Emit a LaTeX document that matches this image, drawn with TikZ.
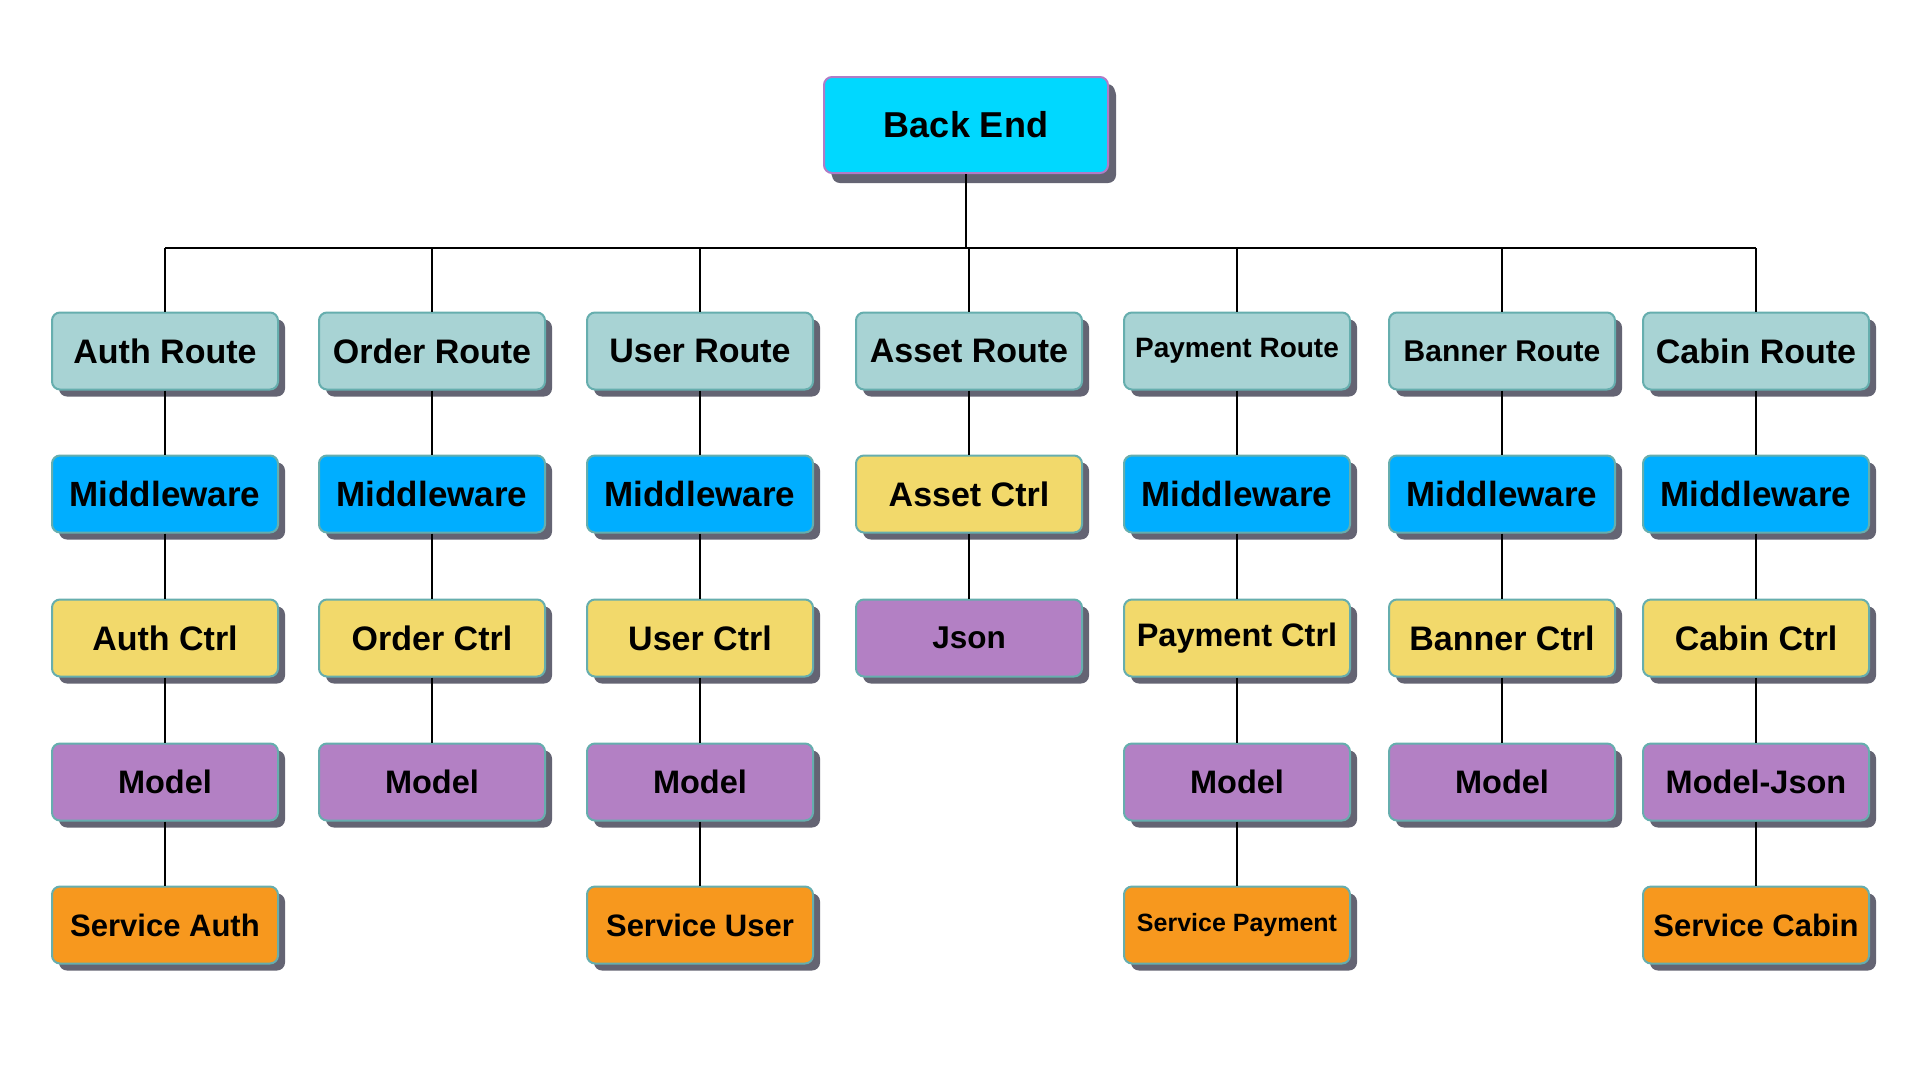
\documentclass[tikz,border=0pt]{standalone}
\usepackage{fontspec}
\setmainfont{Liberation Sans}
\usetikzlibrary{shadows}
\definecolor{becyan}{HTML}{00D8FF}
\definecolor{routecol}{HTML}{A8D3D4}
\definecolor{mwcol}{HTML}{00AEFF}
\definecolor{ctrlcol}{HTML}{F2D96B}
\definecolor{modelcol}{HTML}{B380C4}
\definecolor{servcol}{HTML}{F7981E}
\definecolor{edgecol}{HTML}{66AEAE}
\definecolor{beedge}{HTML}{B07CC6}
\definecolor{shadowcol}{HTML}{646473}
\newcommand{\fsz}[1]{\fontsize{#1}{#1}\selectfont\bfseries}
\begin{document}
\begin{tikzpicture}[x=1pt, y=-1pt, line width=2pt,
  box/.style={draw=edgecol, rounded corners=8pt, minimum width=226pt,
    minimum height=77pt, inner sep=0pt, font=\fsz{34},
    drop shadow={shadow xshift=7pt, shadow yshift=-7pt, fill=shadowcol, opacity=1}},
  route/.style={box, fill=routecol},
  mw/.style={box, fill=mwcol, font=\fsz{35}},
  ctrl/.style={box, fill=ctrlcol},
  model/.style={box, fill=modelcol, font=\fsz{32.5}},
  srv/.style={box, fill=servcol, font=\fsz{31}}]
  \useasboundingbox[fill=white] (0,0) rectangle (1920,1080);

  \node[box, fill=becyan, draw=beedge, minimum width=284pt, minimum height=96pt,
    font=\fsz{36}, drop shadow={shadow xshift=8pt, shadow yshift=-10pt,
    fill=shadowcol, opacity=1}] (be) at (966,125) {Back End};
  \coordinate (bus) at (0,248);

  % routes
  \node[route] (authroute) at (165,351) {Auth Route};
  \node[route] (orderroute) at (432,351) {Order Route};
  \node[route] (userroute) at (700,351) {User Route};
  \node[route] (assetroute) at (969,351) {Asset Route};
  \node[route, font=\fsz{28}] (payroute) at (1237,351) {Payment Route};
  \node[route, font=\fsz{30}] (bannerroute) at (1502,351) {Banner Route};
  \node[route] (cabinroute) at (1756,351) {Cabin Route};

  % middleware
  \node[mw] (authmw) at (165,494) {Middleware};
  \node[mw] (ordermw) at (432,494) {Middleware};
  \node[mw] (usermw) at (700,494) {Middleware};
  \node[mw] (paymw) at (1237,494) {Middleware};
  \node[mw] (bannermw) at (1502,494) {Middleware};
  \node[mw] (cabinmw) at (1756,494) {Middleware};

  % controllers
  \node[ctrl] (authctrl) at (165,638) {Auth Ctrl};
  \node[ctrl] (orderctrl) at (432,638) {Order Ctrl};
  \node[ctrl] (userctrl) at (700,638) {User Ctrl};
  \node[ctrl] (assetctrl) at (969,494) {Asset Ctrl};
  \node[ctrl, font=\fsz{32.5}] (payctrl) at (1237,638) {Payment Ctrl};
  \node[ctrl] (bannerctrl) at (1502,638) {Banner Ctrl};
  \node[ctrl] (cabinctrl) at (1756,638) {Cabin Ctrl};

  % models
  \node[model] (authmodel) at (165,782) {Model};
  \node[model] (ordermodel) at (432,782) {Model};
  \node[model] (usermodel) at (700,782) {Model};
  \node[model, font=\fsz{31.5}] (assetjson) at (969,638) {Json};
  \node[model] (paymodel) at (1237,782) {Model};
  \node[model] (bannermodel) at (1502,782) {Model};
  \node[model] (cabinmodel) at (1756,782) {Model-Json};

  % services
  \node[srv] (authsrv) at (165,925) {Service Auth};
  \node[srv] (usersrv) at (700,925) {Service User};
  \node[srv, font=\fsz{25}] (paysrv) at (1237,925) {Service Payment};
  \node[srv] (cabinsrv) at (1756,925) {Service Cabin};

  % tree
  \draw (be.south) -- (be.south |- bus);
  \draw (authroute.north |- bus) -- (cabinroute.north |- bus);
  \draw (authroute) -- (authroute |- bus);
  \draw (orderroute) -- (orderroute |- bus);
  \draw (userroute) -- (userroute |- bus);
  \draw (assetroute) -- (assetroute |- bus);
  \draw (payroute) -- (payroute |- bus);
  \draw (bannerroute) -- (bannerroute |- bus);
  \draw (cabinroute) -- (cabinroute |- bus);

  \draw (authroute) -- (authmw) -- (authctrl) -- (authmodel) -- (authsrv);
  \draw (orderroute) -- (ordermw) -- (orderctrl) -- (ordermodel);
  \draw (userroute) -- (usermw) -- (userctrl) -- (usermodel) -- (usersrv);
  \draw (assetroute) -- (assetctrl) -- (assetjson);
  \draw (payroute) -- (paymw) -- (payctrl) -- (paymodel) -- (paysrv);
  \draw (bannerroute) -- (bannermw) -- (bannerctrl) -- (bannermodel);
  \draw (cabinroute) -- (cabinmw) -- (cabinctrl) -- (cabinmodel) -- (cabinsrv);
\end{tikzpicture}
\end{document}
